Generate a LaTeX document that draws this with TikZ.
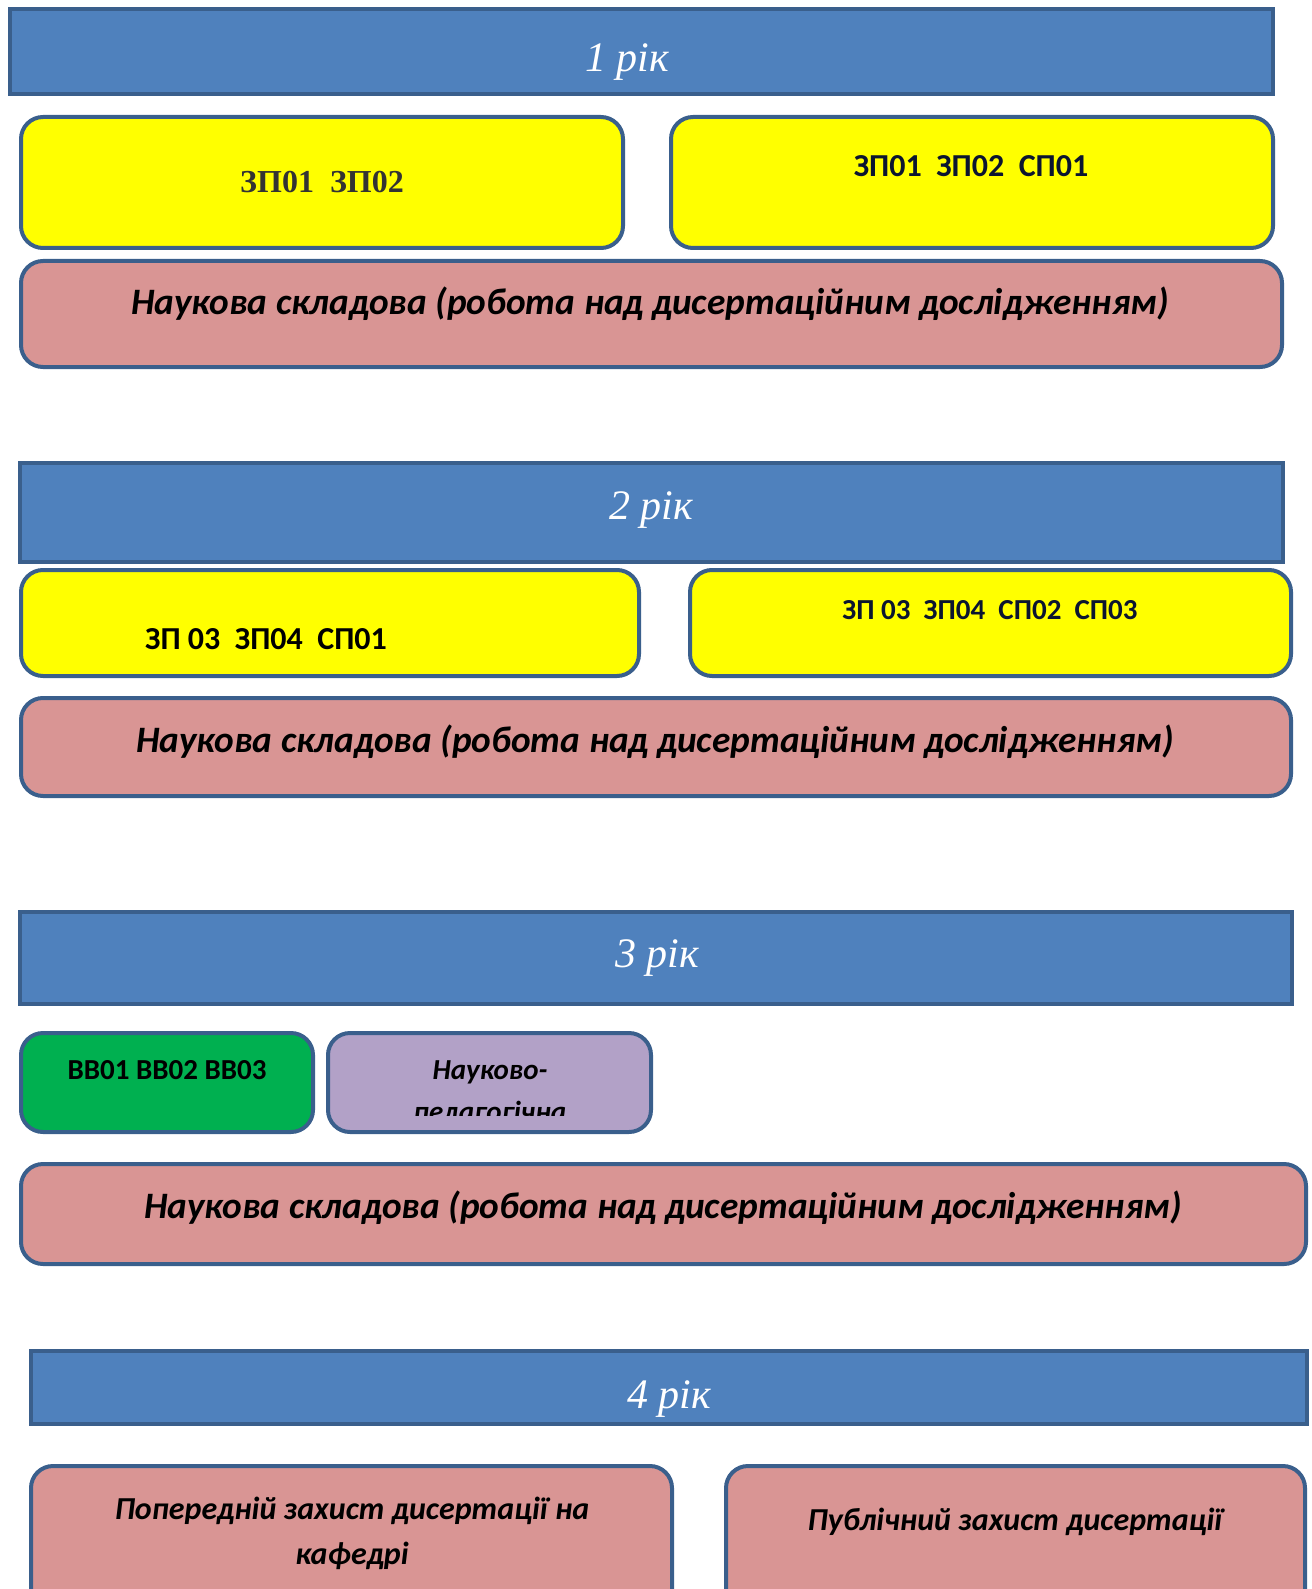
\documentclass[tikz,border=0pt]{standalone}
\usepackage{fontspec}
\setmainfont{Carlito}
\newfontfamily\yearfont{Liberation Serif}
\newfontfamily\oldfont{Liberation Serif}
\definecolor{barblue}{HTML}{4F81BD}
\definecolor{edgeblue}{HTML}{3A5F8C}
\definecolor{boxyellow}{HTML}{FFFF00}
\definecolor{boxpink}{HTML}{D99594}
\definecolor{boxgreen}{HTML}{00B050}
\definecolor{boxlilac}{HTML}{B2A1C7}
\definecolor{codeink}{HTML}{0B1530}
\begin{document}
\begin{tikzpicture}[x=1pt,y=-1pt,
	yearbar/.style={draw=edgeblue,fill=barblue,line width=4pt},
	plate/.style={draw=edgeblue,line width=4pt,rounded corners=22pt},
	yeartext/.style={text=white,font=\yearfont\itshape\fontsize{42}{46}\selectfont},
	sciencetext/.style={font=\bfseries\itshape\fontsize{37.3}{42}\selectfont},
	codetext/.style={text=codeink,font=\bfseries\fontsize{32}{36}\selectfont}]
	\useasboundingbox (0,0) rectangle (1311,1589);
	\clip (0,0) rectangle (1311,1589);
	%YEAR 1
	\draw[yearbar] (10,9) rectangle (1273,94);
	\node[yeartext] (y1) at (627,62) {1 рік};
	\draw[plate,fill=boxyellow] (21,117) rectangle (623,248);
	\node[text=black!80,font=\oldfont\bfseries\fontsize{32}{36}\selectfont] (y1a) at (322,182) {ЗП01~~ЗП02};
	\draw[plate,fill=boxyellow] (671,117) rectangle (1273,248);
	\node[codetext] (y1b) at (971,166) {ЗП01~~ЗП02~~СП01};
	\draw[plate,fill=boxpink] (21,261) rectangle (1282,367);
	\node[sciencetext] (s1) at (650,304) {Наукова складова (робота над дисертаційним дослідженням)};
	%YEAR 2
	\draw[yearbar] (20,463) rectangle (1283,562);
	\node[yeartext] (y2) at (651,510) {2 рік};
	\draw[plate,fill=boxyellow] (21,570) rectangle (639,676);
	\node[text=black,font=\bfseries\fontsize{32}{36}\selectfont] (y2a) at (266,639) {ЗП 03~~ЗП04~~СП01};
	\draw[plate,fill=boxyellow] (690,570) rectangle (1291,676);
	\node[codetext,font=\bfseries\fontsize{29}{32}\selectfont] (y2b) at (990,610) {ЗП 03~~ЗП04~~СП02~~СП03};
	\draw[plate,fill=boxpink] (21,698) rectangle (1291,796);
	\node[sciencetext] (s2) at (655,742) {Наукова складова (робота над дисертаційним дослідженням)};
	%YEAR 3
	\draw[yearbar] (20,912) rectangle (1292,1004);
	\node[yeartext] (y3) at (657,958) {3 рік};
	\draw[plate,fill=boxgreen] (21,1033) rectangle (313,1132);
	\node[font=\bfseries\fontsize{29}{32}\selectfont] (vv) at (167,1070) {ВВ01 ВВ02 ВВ03};
	\draw[plate,fill=boxlilac] (328,1033) rectangle (651,1132);
	\begin{scope}
		\clip (328,1033) rectangle (651,1115);
		\node[anchor=north,inner sep=0pt,align=center,font=\bfseries\itshape\fontsize{29}{42}\selectfont] (np) at (490,1060) {Науково-\\педагогічна};
	\end{scope}
	\draw[plate,fill=boxpink] (21,1164) rectangle (1306,1264);
	\node[sciencetext] (s3) at (663,1208) {Наукова складова (робота над дисертаційним дослідженням)};
	%YEAR 4
	\draw[yearbar] (31,1351) rectangle (1307,1424);
	\node[yeartext] (y4) at (669,1399) {4 рік};
	\draw[plate,fill=boxpink] (31,1466) rectangle (672,1640);
	\node[align=center,font=\bfseries\itshape\fontsize{32}{45}\selectfont] (pre) at (352,1533) {Попередній захист дисертації на\\кафедрі};
	\draw[plate,fill=boxpink] (726,1466) rectangle (1305,1640);
	\node[font=\bfseries\itshape\fontsize{32}{36}\selectfont] (pub) at (1015,1522) {Публічний захист дисертації};
\end{tikzpicture}
\end{document}
